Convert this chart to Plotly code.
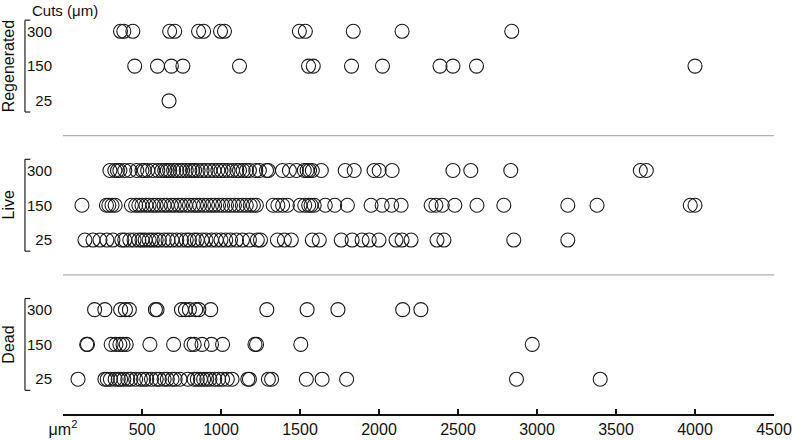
import plotly.graph_objects as go

# measured areas (um^2) per group and cut size
groups = ["Dead", "Live", "Regenerated"]
cuts = ["25", "150", "300"]

regen_300 = [364, 385, 442, 675, 707, 858, 890, 997, 1022, 1496, 1534, 1837, 2146, 2840]
regen_150 = [454, 598, 686, 759, 1117, 1554, 1584, 1826, 2022, 2386, 2468, 2617, 4000]
regen_25 = [671]

live_300 = [297, 328, 345, 360, 391, 423, 467, 500, 515, 536, 568, 600, 625, 644, 660, 675,
            700, 720, 740, 757, 780, 802, 820, 833, 855, 880, 905, 930, 955, 980, 1000, 1020,
            1045, 1073, 1100, 1117, 1140, 1161, 1180, 1220, 1243, 1288, 1300, 1389, 1433,
            1477, 1527, 1545, 1560, 1578, 1635, 1786, 1843, 1969, 2001, 2083, 2468, 2581,
            2834, 3654, 3692]
live_150 = [120, 275, 290, 310, 330, 433, 460, 480, 500, 525, 545, 570, 590, 615, 640, 660,
            685, 705, 730, 750, 775, 800, 825, 845, 865, 890, 915, 940, 960, 985, 1010, 1035,
            1060, 1085, 1110, 1135, 1160, 1185, 1205, 1224, 1330, 1360, 1390, 1420, 1500,
            1530, 1555, 1570, 1590, 1660, 1720, 1800, 1950, 2020, 2080, 2140, 2330, 2360,
            2400, 2480, 2620, 2790, 3195, 3380, 3970, 4000]
live_25 = [139, 190, 234, 278, 316, 372, 391, 423, 450, 480, 500, 520, 545, 565, 590, 610,
           640, 665, 690, 720, 750, 780, 800, 830, 850, 880, 905, 940, 970, 1000, 1030, 1060,
           1098, 1136, 1180, 1230, 1250, 1357, 1401, 1445, 1578, 1622, 1761, 1830, 1893,
           1938, 2000, 2108, 2146, 2203, 2367, 2411, 2853, 3195]

dead_300 = [200, 265, 365, 395, 420, 585, 595, 750, 775, 800, 840, 860, 935, 1290, 1545,
            1740, 2150, 2265]
dead_150 = [150, 155, 305, 335, 360, 380, 400, 550, 700, 810, 830, 880, 940, 1010, 1215,
            1225, 1505, 2970]
dead_25 = [95, 265, 280, 300, 330, 350, 365, 385, 410, 430, 460, 490, 510, 530, 560, 590,
           610, 640, 660, 690, 710, 740, 790, 830, 850, 870, 890, 910, 930, 960, 985, 1010,
           1040, 1070, 1170, 1180, 1300, 1320, 1540, 1640, 1795, 2870, 3400]

x_ticks = [0, 500, 1000, 1500, 2000, 2500, 3000, 3500, 4000, 4500]
x_labels = ["\u03bcm<sup>2</sup>", "500", "1000", "1500", "2000", "2500", "3000", "3500", "4000", "4500"]

series = {
    "Dead": [dead_25, dead_150, dead_300],
    "Live": [live_25, live_150, live_300],
    "Regenerated": [regen_25, regen_150, regen_300],
}

FONT = "Arial, Liberation Sans, sans-serif"
fig = go.Figure()

tickvals, ticktext = [], []
for gi, g in enumerate(groups):
    base = gi * 4
    for ci, c in enumerate(cuts):
        vals = series[g][ci]
        fig.add_trace(go.Scatter(
            x=vals, y=[base + ci] * len(vals), mode="markers",
            marker=dict(symbol="circle-open", size=14, color="#1a1a1a", line=dict(width=1.1)),
            showlegend=False, hoverinfo="x",
        ))
        tickvals.append(base + ci)
        ticktext.append(c)
    # bracket
    y0, y1 = base - 0.32, base + 2.32
    bx, bx2 = -0.0535, -0.046
    for xa, ya, xb, yb in [(bx, y0, bx, y1), (bx, y1, bx2, y1), (bx, y0, bx2, y0)]:
        fig.add_shape(type="line", xref="paper", yref="y", x0=xa, y0=ya, x1=xb, y1=yb,
                      line=dict(color="#222", width=1.2))
    fig.add_annotation(text=g, xref="paper", yref="y", x=-0.077, y=base + 1, textangle=-90,
                       xanchor="center", yanchor="middle", showarrow=False,
                       font=dict(size=16, color="#111", family=FONT))
    if gi > 0:
        fig.add_shape(type="line", xref="paper", yref="y", x0=0, x1=1, y0=base - 1, y1=base - 1,
                      line=dict(color="#b0b0b0", width=1.2))

fig.add_annotation(text="Cuts (\u03bcm)", xref="paper", yref="paper", x=-0.046, y=1.0,
                   xanchor="left", yanchor="top", showarrow=False,
                   font=dict(size=15, color="#111", family=FONT))

fig.update_layout(
    width=792, height=440, margin=dict(l=63, r=16, t=0, b=26),
    paper_bgcolor="white", plot_bgcolor="white",
    font=dict(family=FONT, size=15, color="#111"),
    xaxis=dict(range=[0, 4500], tickvals=x_ticks, ticktext=x_labels, showgrid=False,
               zeroline=False, showline=True, linecolor="#111", linewidth=1.5,
               ticks="inside", ticklen=5, tickcolor="#111", tickwidth=1.5,
               tickfont=dict(size=16), ticklabeloverflow="allow"),
    yaxis=dict(range=[-1, 10.9], tickvals=tickvals, ticktext=ticktext, showgrid=False,
               zeroline=False, showline=False, ticks="", ticklabelstandoff=10),
)

fig.write_html("out.html", config={"displayModeBar": False},
               post_script="document.body.style.margin='0';")
